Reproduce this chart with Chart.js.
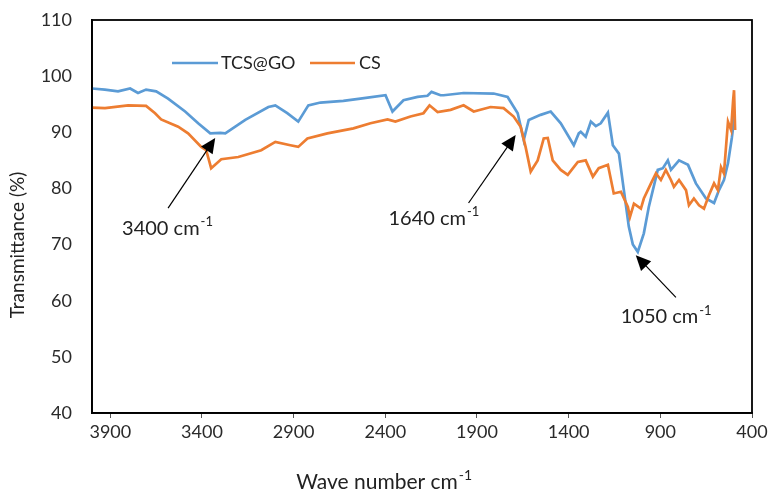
<!DOCTYPE html>
<html>
<head>
<meta charset="utf-8">
<script src="https://cdn.jsdelivr.net/npm/chart.js@4"></script>
<style>
  html, body { margin: 0; padding: 0; background: #fff; }
  #wrap { width: 769px; height: 491px; }
</style>
</head>
<body>
<div id="wrap"><canvas id="chart" width="769" height="491"></canvas></div>
<script>
'use strict';

// TCS@GO spectrum (wave number, transmittance %)
const tcsWave = [4000, 3930, 3858, 3792, 3749, 3705, 3650, 3585, 3492, 3421, 3355, 3300, 3273, 3164, 3038, 3000,
  2935, 2875, 2820, 2754, 2629, 2536, 2399, 2361, 2301, 2224, 2170, 2148, 2099, 2082, 1973, 1809, 1733, 1678,
  1645, 1618, 1553, 1498, 1443, 1372, 1345, 1334, 1307, 1279, 1252, 1225, 1186, 1159, 1126, 1099, 1072, 1050,
  1023, 990, 963, 914, 886, 859, 842, 798, 749, 706, 651, 607, 580, 553, 531, 510, 495];
const tcsT = [97.8, 97.6, 97.3, 97.8, 97.0, 97.6, 97.3, 96.0, 93.7, 91.6, 89.8, 89.9, 89.8, 92.2, 94.5, 94.8,
  93.4, 91.9, 94.8, 95.3, 95.6, 96.0, 96.6, 93.7, 95.7, 96.3, 96.5, 97.2, 96.6, 96.6, 97.0, 96.9, 96.3, 93.4,
  88.6, 92.2, 93.1, 93.7, 91.6, 87.7, 89.8, 90.1, 89.2, 91.9, 91.1, 91.6, 93.5, 87.7, 86.2, 79.7, 73.2, 70.0,
  68.7, 72.0, 76.7, 83.3, 83.6, 85.0, 83.3, 85.0, 84.2, 80.9, 78.2, 77.4, 79.7, 81.5, 84.5, 89.0, 93.0];

// CS spectrum
const csWave = [4000, 3929, 3803, 3705, 3656, 3623, 3530, 3476, 3404, 3377, 3350, 3295, 3202, 3077, 3000, 2918,
  2875, 2825, 2716, 2574, 2481, 2388, 2345, 2263, 2192, 2159, 2115, 2044, 1973, 1918, 1826, 1755, 1700, 1662,
  1635, 1607, 1569, 1536, 1514, 1487, 1443, 1405, 1350, 1307, 1268, 1236, 1186, 1154, 1115, 1077, 1066, 1044,
  1006, 990, 951, 924, 897, 870, 842, 826, 798, 760, 744, 717, 689, 662, 635, 607, 586, 569, 553, 531, 514,
  503, 498, 492];
const csT = [94.4, 94.3, 94.8, 94.7, 93.4, 92.3, 91.0, 89.8, 87.4, 86.8, 83.6, 85.2, 85.6, 86.8, 88.3, 87.7,
  87.4, 88.9, 89.8, 90.7, 91.6, 92.3, 91.9, 92.8, 93.4, 94.8, 93.6, 94.0, 94.8, 93.7, 94.5, 94.3, 92.8, 91.0,
  87.4, 83.0, 85.0, 88.9, 89.0, 85.0, 83.3, 82.4, 84.7, 85.0, 82.1, 83.6, 84.2, 79.1, 79.4, 76.7, 74.9, 77.3,
  76.4, 78.2, 80.9, 82.7, 81.5, 83.3, 81.5, 80.3, 81.5, 79.7, 77.0, 78.2, 77.0, 76.4, 78.8, 80.9, 79.7, 83.8,
  82.7, 91.9, 90.4, 95.7, 97.5, 90.4];

const waveTicks = [3900, 3400, 2900, 2400, 1900, 1400, 900, 400];
const tTicks = [40, 50, 60, 70, 80, 90, 100, 110];

// peak labels: [text, tail wave, tail T, tip wave, tip T, label wave, label T]
const peakLabels = [
  ['3400', 3585, 76.5, 3328, 89.0, 3836, 72.9],
  ['1640', 1946, 77.4, 1689, 89.5, 2383, 74.7],
  ['1050', 815, 60.6, 1034, 68.1, 1116, 57.1]
];

const seriesNames = ['TCS@GO', 'CS'];
const blue = '#5B9BD5';
const orange = '#ED7D31';
const FONT = 'Lato, "Noto Sans", sans-serif';

function toPoints(xs, ys) {
  return xs.map((x, i) => ({ x: x, y: ys[i] }));
}

function textWithSup(ctx, main, sup, x, y, size) {
  ctx.font = size + 'px ' + FONT;
  ctx.textBaseline = 'middle';
  ctx.textAlign = 'left';
  ctx.fillText(main, x, y);
  const w = ctx.measureText(main).width;
  ctx.font = Math.round(size * 0.65) + 'px ' + FONT;
  ctx.fillText(sup, x + w + 1, y - size * 0.3);
  return w + ctx.measureText(sup).width + 1;
}

function arrow(ctx, x1, y1, x2, y2) {
  const ang = Math.atan2(y2 - y1, x2 - x1);
  const len = 15, half = 7;
  ctx.strokeStyle = '#000';
  ctx.lineWidth = 1.2;
  ctx.beginPath();
  ctx.moveTo(x1, y1);
  ctx.lineTo(x2 - Math.cos(ang) * len * 0.8, y2 - Math.sin(ang) * len * 0.8);
  ctx.stroke();
  ctx.fillStyle = '#000';
  ctx.beginPath();
  ctx.moveTo(x2, y2);
  ctx.lineTo(x2 - Math.cos(ang) * len - Math.sin(ang) * half, y2 - Math.sin(ang) * len + Math.cos(ang) * half);
  ctx.lineTo(x2 - Math.cos(ang) * len + Math.sin(ang) * half, y2 - Math.sin(ang) * len - Math.cos(ang) * half);
  ctx.closePath();
  ctx.fill();
}

const decorations = {
  id: 'decorations',
  afterDraw(chart) {
    const ctx = chart.ctx;
    const a = chart.chartArea;
    const xs = chart.scales.x, ys = chart.scales.y;
    ctx.save();

    // frame
    ctx.strokeStyle = '#000';
    ctx.lineWidth = 1.8;
    ctx.strokeRect(a.left, a.top, a.right - a.left, a.bottom - a.top);

    // legend
    ctx.lineWidth = 2.5;
    ctx.strokeStyle = blue;
    ctx.beginPath(); ctx.moveTo(172, 63); ctx.lineTo(218, 63); ctx.stroke();
    ctx.strokeStyle = orange;
    ctx.beginPath(); ctx.moveTo(310, 63); ctx.lineTo(355, 63); ctx.stroke();
    ctx.fillStyle = '#222';
    ctx.font = '18px ' + FONT;
    ctx.textBaseline = 'middle';
    ctx.textAlign = 'left';
    ctx.fillText(seriesNames[0], 221, 63);
    ctx.fillText(seriesNames[1], 359, 63);

    // peak annotations
    peakLabels.forEach(p => {
      arrow(ctx, xs.getPixelForValue(p[1]), ys.getPixelForValue(p[2]),
        xs.getPixelForValue(p[3]), ys.getPixelForValue(p[4]));
      ctx.fillStyle = '#222';
      textWithSup(ctx, p[0] + ' cm', '-1', xs.getPixelForValue(p[5]), ys.getPixelForValue(p[6]), 20);
    });

    // axis titles
    ctx.fillStyle = '#222';
    ctx.font = '21px ' + FONT;
    const main = 'Wave number cm';
    const w = ctx.measureText(main).width + 14;
    textWithSup(ctx, main, '-1', 384 - w / 2, 482, 21);

    ctx.translate(18, 245);
    ctx.rotate(-Math.PI / 2);
    ctx.font = '19px ' + FONT;
    ctx.textAlign = 'center';
    ctx.textBaseline = 'middle';
    ctx.fillText('Transmittance (%)', 0, 0);
    ctx.restore();
  }
};

const canvasElem = document.getElementById('chart');
new Chart(canvasElem.getContext('2d'), {
  type: 'line',
  data: {
    datasets: [{
      label: seriesNames[0],
      data: toPoints(tcsWave, tcsT),
      borderColor: blue,
      borderWidth: 2.7,
      pointRadius: 0,
      tension: 0,
      order: 1
    }, {
      label: seriesNames[1],
      data: toPoints(csWave, csT),
      borderColor: orange,
      borderWidth: 2.7,
      pointRadius: 0,
      tension: 0,
      order: 0
    }]
  },
  options: {
    responsive: false,
    animation: false,
    layout: { padding: { left: 0, right: 17, top: 20, bottom: 0 } },
    plugins: { legend: { display: false }, tooltip: { enabled: false } },
    scales: {
      x: {
        type: 'linear',
        reverse: true,
        min: 400,
        max: 4000,
        afterBuildTicks: s => { s.ticks = waveTicks.map(v => ({ value: v })); },
        afterFit: s => { s.height = 78; s.paddingLeft = 0; s.paddingRight = 0; },
        grid: { drawOnChartArea: false, drawTicks: true, tickLength: 5, color: '#555' },
        border: { display: true, color: '#000', width: 1.8 },
        ticks: { color: '#2a2a2a', padding: 3, font: { family: FONT, size: 18 }, maxRotation: 0,
          callback: v => String(v) }
      },
      y: {
        min: 40,
        max: 110,
        afterBuildTicks: s => { s.ticks = tTicks.map(v => ({ value: v })); },
        afterFit: s => { s.width = 92; s.paddingTop = 0; s.paddingBottom = 0; },
        grid: { display: false, drawTicks: false },
        border: { display: true, color: '#000', width: 1.8 },
        ticks: { color: '#2a2a2a', padding: 20, font: { family: FONT, size: 18 },
          callback: v => String(v) }
      }
    }
  },
  plugins: [decorations]
});
</script>
</body>
</html>
